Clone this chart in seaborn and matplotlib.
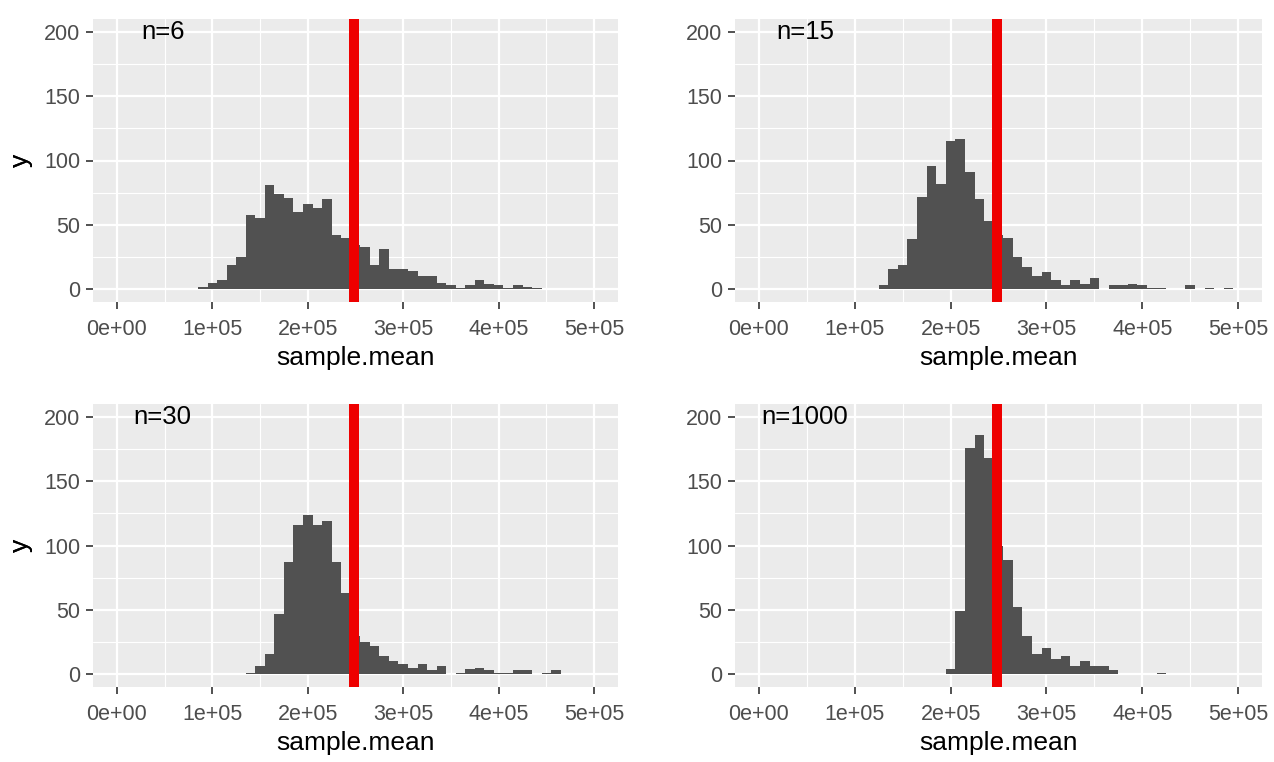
import numpy as np
import pandas as pd
import seaborn as sns
import matplotlib
matplotlib.use("Agg")
import matplotlib.pyplot as plt
from matplotlib.ticker import FixedLocator

# ---- data ----
bin_width = 10000
pop_mean = 248000

n6_first_center = 90000
n6_counts = [2, 5, 7, 19, 25, 58, 55, 81, 74, 71, 60, 66, 63, 70, 42, 40, 34, 33,
             19, 31, 16, 16, 14, 10, 10, 5, 3, 1, 3, 7, 4, 3, 1, 3, 2, 1]

n15_first_center = 130000
n15_counts = [3, 16, 19, 39, 72, 96, 82, 115, 117, 91, 70, 53, 42, 40, 25, 17, 10,
              13, 7, 3, 7, 4, 9, 0, 3, 3, 4, 3, 1, 1, 0, 0, 3, 0, 1, 0, 1]

n30_first_center = 140000
n30_counts = [1, 6, 16, 47, 87, 116, 124, 116, 119, 87, 63, 30, 25, 22, 14, 10, 8,
              5, 8, 3, 6, 0, 1, 4, 5, 3, 1, 1, 3, 3, 0, 1, 3]

n1000_first_center = 200000
n1000_counts = [4, 49, 176, 186, 168, 100, 89, 52, 30, 16, 20, 12, 14, 6, 10, 6, 6,
                3, 0, 0, 0, 0, 1]

panel_labels = ["n=6", "n=15", "n=30", "n=1000"]
x_ticks = [0, 100000, 200000, 300000, 400000, 500000]
x_tick_labels = ["0e+00", "1e+05", "2e+05", "3e+05", "4e+05", "5e+05"]
y_ticks = [0, 50, 100, 150, 200]
y_tick_labels = ["0", "50", "100", "150", "200"]
x_title = "sample.mean"
y_title = "y"

panels = [
    (n6_first_center, n6_counts),
    (n15_first_center, n15_counts),
    (n30_first_center, n30_counts),
    (n1000_first_center, n1000_counts),
]

sns.set_theme(style="darkgrid")
plt.rcParams["font.family"] = ["Liberation Sans", "DejaVu Sans"]

W, H = 1274, 762
fig = plt.figure(figsize=(W / 100, H / 100), dpi=100)

# axes rectangles in pixels: left, top, right, bottom
rects = [
    (93, 19, 618, 302),
    (735, 19, 1262, 302),
    (93, 404, 618, 687),
    (735, 404, 1262, 687),
]

bar_color = "#515151"
for (first_c, counts), label, (l, t, r, b) in zip(panels, panel_labels, rects):
    ax = fig.add_axes([l / W, 1 - b / H, (r - l) / W, (b - t) / H])
    centers = first_c + bin_width * np.arange(len(counts))
    lo = float(centers[0] - bin_width / 2)
    hi = float(centers[-1] + bin_width / 2)
    df = pd.DataFrame({"center": centers.astype(float),
                       "count": np.asarray(counts, dtype=float)})
    sns.histplot(data=df, x="center", weights="count", binwidth=bin_width,
                 binrange=(lo, hi), ax=ax, color=bar_color, alpha=1,
                 edgecolor="none", linewidth=0)
    ax.axvline(pop_mean, color="#EE0000", lw=7.2, zorder=5)
    ax.text(48000, 200, label, ha="center", va="center", fontsize=18.5, color="black")

    ax.set_facecolor("#EBEBEB")
    ax.set_xlim(-25000, 525000)
    ax.set_ylim(-10, 210)
    ax.xaxis.set_major_locator(FixedLocator(x_ticks))
    ax.set_xticklabels(x_tick_labels)
    ax.yaxis.set_major_locator(FixedLocator(y_ticks))
    ax.set_yticklabels(y_tick_labels)
    ax.xaxis.set_minor_locator(FixedLocator([50000, 150000, 250000, 350000, 450000]))
    ax.yaxis.set_minor_locator(FixedLocator([25, 75, 125, 175]))
    ax.grid(which="major", color="white", lw=1.6)
    ax.grid(which="minor", color="white", lw=0.8)
    ax.set_axisbelow(True)
    for s in ax.spines.values():
        s.set_visible(False)
    ax.tick_params(axis="both", which="major", length=5, width=1.2, color="#333333",
                   labelsize=15.5, labelcolor="#4D4D4D", bottom=True, left=True)
    ax.tick_params(axis="x", which="major", pad=7)
    ax.tick_params(axis="y", which="major", pad=4)
    ax.tick_params(axis="both", which="minor", length=0)
    ax.set_xlabel(x_title, fontsize=19, color="black")
    ax.set_ylabel(y_title, fontsize=19, color="black")
    ax.xaxis.label.set_va("center")
    ax.yaxis.label.set_va("center")
    ax.xaxis.set_label_coords(0.5, -(358 - 302) / (b - t))
    ax.yaxis.set_label_coords((21 - l) / (r - l), 0.5)

fig.savefig("out.png", dpi=100)
